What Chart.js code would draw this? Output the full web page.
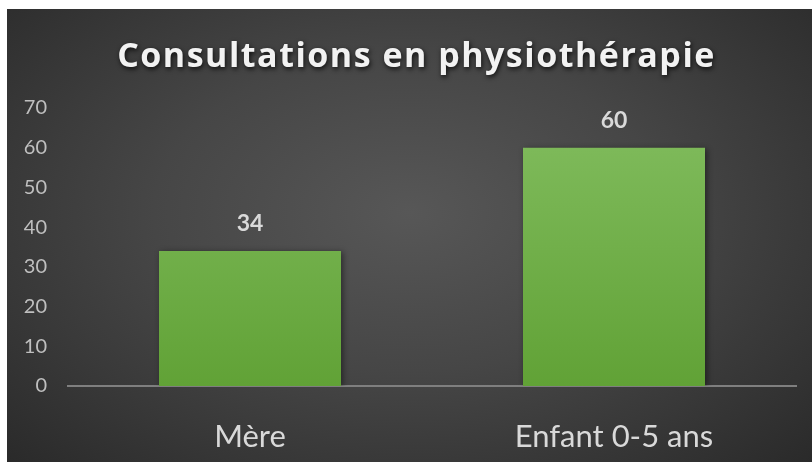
<!DOCTYPE html>
<html>
<head>
<meta charset="utf-8">
<script src="https://cdn.jsdelivr.net/npm/chart.js@4"></script>
<style>
  html, body { margin: 0; padding: 0; background: #fff; }
  #wrap {
    position: absolute; left: 7px; top: 9px; width: 805px; height: 453px;
    background: radial-gradient(ellipse at 50% 45%, #575757 0%, #464646 45%, #2a2a2a 100%);
  }
</style>
</head>
<body>
<div id="wrap"><canvas id="barchart__consult" width="805" height="453"></canvas></div>
<script>
// Consultations en physiothérapie
const categories = ['Mère', 'Enfant 0-5 ans'];
const consultations = [34, 60];
const yTicks = [0, 10, 20, 30, 40, 50, 60, 70];
const chartTitle = 'Consultations en physiothérapie';

// title with shadow + value labels above bars
const excelLook = {
    id: 'excelLook',
    beforeDatasetsDraw(chart) {
        chart.ctx.save();
        chart.ctx.shadowColor = 'rgba(0,0,0,0.45)';
        chart.ctx.shadowBlur = 6;
        chart.ctx.shadowOffsetX = 2;
        chart.ctx.shadowOffsetY = 1;
    },
    afterDatasetsDraw(chart) {
        chart.ctx.restore();
        let ctx = chart.ctx;
        let meta = chart.getDatasetMeta(0);
        ctx.save();
        ctx.font = 'bold 23px Lato';
        ctx.fillStyle = '#d9d9d9';
        ctx.textAlign = 'center';
        ctx.textBaseline = 'middle';
        meta.data.forEach((bar, i) => {
            let v = chart.data.datasets[0].data[i];
            ctx.fillText(String(v), bar.x, chart.scales.y.getPixelForValue(v) - 27);
        });
        ctx.restore();
    },
    afterDraw(chart) {
        let ctx = chart.ctx;
        ctx.save();
        ctx.font = 'bold 34px "Open Sans"';
        ctx.letterSpacing = '1.5px';
        ctx.fillStyle = '#f2f2f2';
        ctx.textAlign = 'center';
        ctx.textBaseline = 'middle';
        ctx.shadowColor = 'rgba(0,0,0,0.8)';
        ctx.shadowBlur = 5;
        ctx.shadowOffsetX = 1;
        ctx.shadowOffsetY = 2;
        ctx.fillText(chartTitle, chart.width / 2 + 7, 48);
        ctx.restore();
    }
};

let ctx__consult = document.getElementById('barchart__consult').getContext('2d');
new Chart(ctx__consult, {
    type: 'bar',
    data: {
        labels: categories,
        datasets: [{
            label: 'Consultations',
            data: consultations,
            backgroundColor: (c) => {
                let area = c.chart.chartArea;
                if (!area) return '#6aab42';
                let g = c.chart.ctx.createLinearGradient(0, area.top, 0, area.bottom);
                g.addColorStop(0, '#82bd5f');
                g.addColorStop(1, '#61a236');
                return g;
            },
            borderWidth: 0,
            categoryPercentage: 0.5,
            barPercentage: 1.0
        }]
    },
    options: {
        responsive: false,
        animation: false,
        layout: { padding: { top: 99, right: 16, left: 0, bottom: 0 } },
        plugins: {
            legend: { display: false },
            title: { display: false },
            tooltip: { enabled: false }
        },
        scales: {
            x: {
                grid: { display: false },
                border: { display: true, color: '#7f7f7f', width: 2 },
                ticks: { color: '#d9d9d9', font: { family: 'Lato', size: 31 }, padding: 24 },
                afterFit: (s) => { s.height = 76; }
            },
            y: {
                min: 0,
                max: 70,
                afterBuildTicks: (s) => { s.ticks = yTicks.map(v => ({ value: v })); },
                grid: { display: false, drawTicks: false },
                border: { display: false },
                ticks: { color: '#bfbfbf', font: { family: 'Lato', size: 20 }, padding: 21 },
                afterFit: (s) => { s.width = 61; }
            }
        }
    },
    plugins: [excelLook]
});
</script>
</body>
</html>
